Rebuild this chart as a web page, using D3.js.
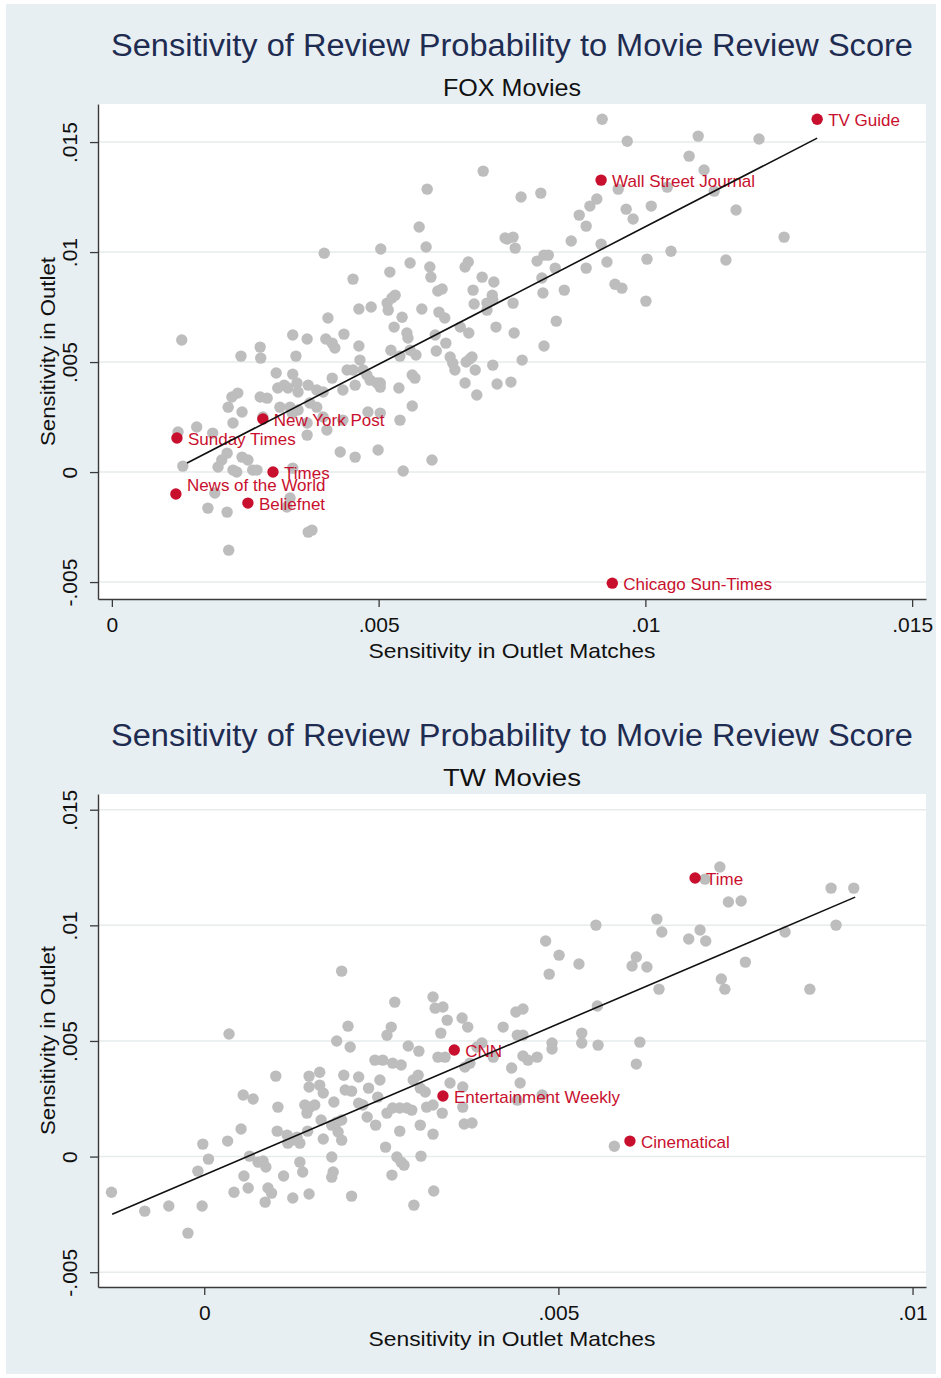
<!DOCTYPE html>
<html><head><meta charset="utf-8">
<script src="https://cdn.jsdelivr.net/npm/d3@7"></script>
<style>
body{margin:0;background:#fff}
svg{display:block}
text{font-family:"Liberation Sans",Arial,Helvetica,sans-serif}
</style>
</head><body>
<svg id="chart" width="941" height="1378"></svg>
<script>
// ---------------- DATA ----------------
const mainTitle = "Sensitivity of Review Probability to Movie Review Score";
const subTitles = ["FOX Movies", "TW Movies"];
const xAxisTitle = "Sensitivity in Outlet Matches";
const yAxisTitle = "Sensitivity in Outlet";

const foxXTicks = [0, 0.005, 0.01, 0.015];
const foxXTickLabels = ["0", ".005", ".01", ".015"];
const twXTicks = [0, 0.005, 0.01];
const twXTickLabels = ["0", ".005", ".01"];
const yTicks = [-0.005, 0, 0.005, 0.01, 0.015];
const yTickLabels = ["-.005", "0", ".005", ".01", ".015"];

// FOX movies: all outlets (grey)
const foxPoints = [
[0.00131,0.00600],[0.00242,0.00527],[0.00278,0.00568],[0.00279,0.00518],[0.00339,0.00623],[0.00366,0.00605],[0.00345,0.00527],[0.00398,0.00995],[0.00405,0.00700],[0.00401,0.00605],
[0.00413,0.00586],[0.00418,0.00564],[0.00435,0.00627],[0.00452,0.00877],[0.00463,0.00741],[0.00486,0.00750],[0.00463,0.00573],[0.00465,0.00509],[0.00504,0.01014],[0.00521,0.00909],
[0.00516,0.00768],[0.00525,0.00791],[0.00531,0.00804],[0.00518,0.00736],[0.00544,0.00704],[0.00529,0.00659],[0.00553,0.00632],[0.00555,0.00609],[0.00523,0.00554],[0.00540,0.00527],
[0.00559,0.00554],[0.00570,0.00532],[0.00559,0.00950],[0.00576,0.01114],[0.00591,0.01286],[0.00589,0.01023],[0.00596,0.00932],[0.00598,0.00886],[0.00581,0.00741],[0.00611,0.00823],
[0.00619,0.00832],[0.00613,0.00727],[0.00624,0.00700],[0.00606,0.00623],[0.00626,0.00586],[0.00608,0.00550],[0.00634,0.00523],[0.00639,0.00495],[0.00643,0.00464],[0.00653,0.00659],
[0.00669,0.00632],[0.00662,0.00932],[0.00668,0.00955],[0.00694,0.00886],[0.00716,0.00864],[0.00677,0.00827],[0.00679,0.00764],[0.00703,0.00736],[0.00713,0.00804],[0.00714,0.00782],
[0.00720,0.00659],[0.00696,0.01368],[0.00737,0.01064],[0.00675,0.00523],[0.00919,0.01604],[0.00966,0.01504],[0.01099,0.01527],[0.01213,0.01514],[0.01082,0.01436],[0.01110,0.01373],
[0.00767,0.01250],[0.00804,0.01268],[0.00909,0.01241],[0.00896,0.01209],[0.00949,0.01286],[0.01041,0.01295],[0.01129,0.01277],[0.00964,0.01195],[0.00977,0.01150],[0.01011,0.01209],
[0.00876,0.01168],[0.00889,0.01118],[0.01170,0.01191],[0.01260,0.01068],[0.00741,0.01059],[0.00752,0.01068],[0.00756,0.01018],[0.00861,0.01050],[0.00917,0.01036],[0.00797,0.00959],
[0.00810,0.00986],[0.00818,0.00986],[0.00831,0.00927],[0.00806,0.00882],[0.00808,0.00814],[0.00848,0.00827],[0.00889,0.00927],[0.00928,0.00955],[0.01003,0.00968],[0.01048,0.01004],
[0.01151,0.00964],[0.00943,0.00854],[0.00956,0.00836],[0.01001,0.00777],[0.00833,0.00686],[0.00703,0.00768],[0.00752,0.00768],[0.00754,0.00632],[0.00810,0.00573],[0.00769,0.00509],
[0.00664,0.00500],[0.00671,0.00514],[0.00681,0.00464],[0.00714,0.00486],[0.00538,0.00382],[0.00503,0.00405],[0.00662,0.00405],[0.00684,0.00350],[0.00722,0.00400],[0.00748,0.00409],
[0.00563,0.00300],[0.00471,0.00464],[0.00308,0.00450],[0.00339,0.00445],[0.00311,0.00382],[0.00323,0.00395],[0.00330,0.00382],[0.00347,0.00405],[0.00349,0.00364],[0.00368,0.00395],
[0.00384,0.00373],[0.00396,0.00364],[0.00413,0.00427],[0.00433,0.00373],[0.00456,0.00395],[0.00478,0.00441],[0.00484,0.00418],[0.00497,0.00405],[0.00503,0.00386],[0.00441,0.00464],
[0.00452,0.00464],[0.00563,0.00441],[0.00568,0.00427],[0.00278,0.00341],[0.00291,0.00336],[0.00225,0.00341],[0.00236,0.00359],[0.00218,0.00295],[0.00244,0.00273],[0.00227,0.00223],
[0.00283,0.00250],[0.00315,0.00295],[0.00334,0.00295],[0.00338,0.00268],[0.00349,0.00282],[0.00371,0.00314],[0.00384,0.00295],[0.00396,0.00250],[0.00403,0.00191],[0.00433,0.00236],
[0.00480,0.00273],[0.00503,0.00268],[0.00540,0.00236],[0.00366,0.00223],[0.00366,0.00168],[0.00428,0.00091],[0.00456,0.00068],[0.00499,0.00100],[0.00546,0.00005],[0.00600,0.00055],
[0.00159,0.00205],[0.00189,0.00177],[0.00216,0.00086],[0.00206,0.00055],[0.00199,0.00023],[0.00244,0.00068],[0.00255,0.00055],[0.00264,0.00009],[0.00133,0.00027],[0.00227,0.00009],
[0.00193,-0.00095],[0.00180,-0.00164],[0.00216,-0.00182],[0.00334,-0.00118],[0.00328,-0.00159],[0.00368,-0.00273],[0.00375,-0.00264],[0.00219,-0.00355],[0.00339,0.00018],[0.00234,0.00000],
[0.00272,0.00009],[0.00124,0.00182]
];
// FOX movies: highlighted outlets
const foxNames = ["TV Guide","Wall Street Journal","New York Post","Sunday Times","Times","News of the World","Beliefnet","Chicago Sun-Times"];
const foxNameX = [0.01322,0.00917,0.00283,0.00122,0.00302,0.00120,0.00255,0.00938];
const foxNameY = [0.01604,0.01327,0.00241,0.00155,0.00000,-0.00100,-0.00141,-0.00505];
const foxNameClock = [3,3,3,3,3,2,3,3];
const foxFitX = [0.00141, 0.01322];
const foxFitY = [0.00041, 0.01518];

// TW movies: all outlets (grey)
const twPoints = [
[-0.00131,-0.00154],[-0.00084,-0.00236],[-0.00050,-0.00214],[-0.00023,-0.00331],[-0.00003,-0.00214],[-0.00009,-0.00063],[-0.00002,0.00054],[0.00006,-0.00011],[0.00035,0.00530],[0.00033,0.00067],
[0.00052,0.00119],[0.00042,-0.00154],[0.00062,-0.00136],[0.00056,-0.00084],[0.00055,0.00266],[0.00069,0.00249],[0.00064,0.00002],[0.00076,-0.00024],[0.00083,-0.00019],[0.00087,-0.00045],
[0.00086,-0.00197],[0.00090,-0.00136],[0.00095,-0.00158],[0.00101,0.00348],[0.00104,0.00214],[0.00103,0.00110],[0.00117,0.00093],[0.00124,0.00071],[0.00131,0.00084],[0.00135,0.00058],
[0.00118,0.00058],[0.00112,-0.00084],[0.00125,-0.00179],[0.00135,-0.00024],[0.00139,-0.00067],[0.00148,-0.00162],[0.00146,0.00110],[0.00148,0.00348],[0.00148,0.00301],[0.00142,0.00223],
[0.00149,0.00214],[0.00156,0.00223],[0.00145,0.00188],[0.00163,0.00365],[0.00163,0.00309],[0.00168,0.00275],[0.00165,0.00158],[0.00168,0.00076],[0.00180,-0.00002],[0.00182,-0.00067],
[0.00180,-0.00089],[0.00183,0.00236],[0.00180,0.00136],[0.00187,0.00149],[0.00194,0.00158],[0.00189,0.00106],[0.00194,0.00071],[0.00194,0.00802],[0.00203,0.00564],[0.00187,0.00500],
[0.00206,0.00474],[0.00197,0.00352],[0.00199,0.00288],[0.00208,0.00283],[0.00218,0.00344],[0.00218,0.00231],[0.00224,0.00223],[0.00230,0.00171],[0.00232,0.00296],[0.00208,-0.00171],
[0.00248,0.00331],[0.00245,0.00257],[0.00242,0.00136],[0.00256,0.00041],[0.00258,0.00188],[0.00266,0.00210],[0.00276,0.00210],[0.00286,0.00210],[0.00293,0.00201],[0.00241,0.00417],
[0.00252,0.00417],[0.00266,0.00404],[0.00278,0.00396],[0.00264,0.00560],[0.00258,0.00525],[0.00269,0.00668],[0.00288,0.00478],[0.00303,0.00456],[0.00276,0.00110],[0.00272,-0.00002],
[0.00278,-0.00024],[0.00282,-0.00037],[0.00265,-0.00080],[0.00296,-0.00210],[0.00306,0.00002],[0.00305,0.00136],[0.00323,0.00097],[0.00324,-0.00149],[0.00295,0.00331],[0.00302,0.00352],
[0.00305,0.00296],[0.00312,0.00279],[0.00314,0.00214],[0.00323,0.00223],[0.00336,0.00188],[0.00323,0.00690],[0.00326,0.00642],[0.00337,0.00647],[0.00343,0.00590],[0.00334,0.00534],
[0.00330,0.00430],[0.00340,0.00430],[0.00364,0.00599],[0.00372,0.00560],[0.00347,0.00318],[0.00365,0.00301],[0.00365,0.00214],[0.00367,0.00141],[0.00368,0.00387],[0.00375,0.00404],
[0.00385,0.00474],[0.00392,0.00491],[0.00707,0.01200],[0.00728,0.01252],[0.00740,0.01101],[0.00758,0.01105],[0.00885,0.01161],[0.00917,0.01161],[0.00892,0.01001],[0.00820,0.00971],
[0.00764,0.00841],[0.00855,0.00724],[0.00730,0.00768],[0.00735,0.00724],[0.00639,0.01027],[0.00646,0.00971],[0.00684,0.00941],[0.00700,0.00980],[0.00708,0.00932],[0.00553,0.01001],
[0.00482,0.00932],[0.00501,0.00871],[0.00529,0.00833],[0.00487,0.00789],[0.00610,0.00863],[0.00604,0.00824],[0.00625,0.00820],[0.00642,0.00724],[0.00555,0.00651],[0.00440,0.00625],
[0.00450,0.00638],[0.00422,0.00560],[0.00442,0.00525],[0.00450,0.00525],[0.00491,0.00491],[0.00491,0.00465],[0.00533,0.00534],[0.00533,0.00491],[0.00556,0.00482],[0.00615,0.00495],
[0.00610,0.00400],[0.00450,0.00435],[0.00470,0.00430],[0.00457,0.00417],[0.00434,0.00383],[0.00446,0.00318],[0.00477,0.00266],[0.00442,0.00244],[0.00408,0.00430],[0.00579,0.00045],
[0.00378,0.00145]
];
// TW movies: highlighted outlets
const twNames = ["Time","CNN","Entertainment Weekly","Cinematical"];
const twNameX = [0.00693,0.00353,0.00337,0.00601];
const twNameY = [0.01205,0.00461,0.00262,0.00067];
const twNameClock = [3,3,3,3];
const twFitX = [-0.00130, 0.00919];
const twFitY = [-0.00249, 0.01122];

// ---------------- DRAWING ----------------
const svg = d3.select("#chart");
const C = {bg:"#e8eff2", title:"#1f2c52", grey:"#bdbdbd", red:"#c8102e", axis:"#3a3a3a", grid:"#e7ebec"};
svg.append("rect").attr("x",6).attr("y",4).attr("width",930).attr("height",1370).attr("fill",C.bg);

const panels = [
  {dy:0, sub:subTitles[0], xDomain:[-0.00026,0.01526], yDomain:[-0.00577,0.01673],
   xTicks:foxXTicks, xTickLabels:foxXTickLabels, points:foxPoints,
   names:foxNames, nx:foxNameX, ny:foxNameY, clock:foxNameClock, fitX:foxFitX, fitY:foxFitY},
  {dy:690, sub:subTitles[1], xDomain:[-0.0015,0.01019], yDomain:[-0.00564,0.01568],
   xTicks:twXTicks, xTickLabels:twXTickLabels, points:twPoints,
   names:twNames, nx:twNameX, ny:twNameY, clock:twNameClock, fitX:twFitX, fitY:twFitY}
];

panels.forEach(p => {
  const L = 98, R = 926, T = 104 + p.dy, B = 599 + p.dy - (p.dy ? 2 : 0);
  const g = svg.append("g");
  const x = d3.scaleLinear().domain(p.xDomain).range([L, R]);
  const y = d3.scaleLinear().domain(p.yDomain).range([B, T]);

  g.append("text").attr("x",512).attr("y",56 + p.dy).attr("text-anchor","middle")
    .attr("font-size",31).attr("fill",C.title)
    .attr("textLength",802).attr("lengthAdjust","spacingAndGlyphs").text(mainTitle);
  g.append("text").attr("x",512).attr("y",96 + p.dy).attr("text-anchor","middle")
    .attr("font-size",24).attr("fill","#111")
    .attr("textLength",138).attr("lengthAdjust","spacingAndGlyphs").text(p.sub);

  g.append("rect").attr("x",L).attr("y",T).attr("width",R-L).attr("height",B-T).attr("fill","#fff");

  g.append("g").selectAll("line").data(yTicks).join("line")
    .attr("x1",L).attr("x2",R).attr("y1",d=>y(d)).attr("y2",d=>y(d))
    .attr("stroke",C.grid).attr("stroke-width",1.5);

  g.append("g").selectAll("circle").data(p.points).join("circle")
    .attr("cx",d=>x(d[0])).attr("cy",d=>y(d[1])).attr("r",5.7).attr("fill",C.grey);

  const named = p.names.map((n,i)=>({name:n, x:p.nx[i], y:p.ny[i], clock:p.clock[i]}));
  const lab = g.append("g");
  lab.selectAll("circle").data(named).join("circle")
    .attr("cx",d=>x(d.x)).attr("cy",d=>y(d.y)).attr("r",5.7).attr("fill",C.red);
  lab.selectAll("text").data(named).join("text")
    .attr("x",d=>x(d.x)+11).attr("y",d=>y(d.y)+(d.clock===2?-3:7))
    .attr("font-size",17).attr("fill",C.red).text(d=>d.name);

  g.append("path")
    .datum(p.fitX.map((v,i)=>[v,p.fitY[i]]))
    .attr("d", d3.line().x(d=>x(d[0])).y(d=>y(d[1])))
    .attr("fill","none").attr("stroke","#111").attr("stroke-width",1.6);

  const yAx = g.append("g").attr("transform",`translate(${L},0)`)
    .call(d3.axisLeft(y).tickValues(yTicks).tickFormat((d,i)=>yTickLabels[i]).tickSize(8).tickSizeOuter(0));
  yAx.attr("font-family",null).attr("font-size",null);
  yAx.select(".domain").attr("stroke",C.axis).attr("stroke-width",1.4);
  yAx.selectAll(".tick line").attr("stroke",C.axis).attr("stroke-width",1.3);
  yAx.selectAll(".tick text").attr("transform","rotate(-90)").attr("x",0).attr("y",-21).attr("dy",0)
    .attr("text-anchor","middle").attr("font-size",21).attr("fill","#111");

  const xAx = g.append("g").attr("transform",`translate(0,${B})`)
    .call(d3.axisBottom(x).tickValues(p.xTicks).tickFormat((d,i)=>p.xTickLabels[i]).tickSize(8).tickSizeOuter(0));
  xAx.attr("font-family",null).attr("font-size",null);
  xAx.select(".domain").attr("stroke",C.axis).attr("stroke-width",1.4);
  xAx.selectAll(".tick line").attr("stroke",C.axis).attr("stroke-width",1.3);
  xAx.selectAll(".tick text").attr("y",33).attr("dy",0).attr("font-size",21).attr("fill","#111");

  g.append("text").attr("x",512).attr("y",B+59).attr("text-anchor","middle")
    .attr("font-size",21).attr("fill","#111")
    .attr("textLength",287).attr("lengthAdjust","spacingAndGlyphs").text(xAxisTitle);
  g.append("text").attr("transform",`translate(55,${(T+B)/2}) rotate(-90)`).attr("text-anchor","middle")
    .attr("font-size",21).attr("fill","#111")
    .attr("textLength",189).attr("lengthAdjust","spacingAndGlyphs").text(yAxisTitle);
});
</script>
</body></html>
